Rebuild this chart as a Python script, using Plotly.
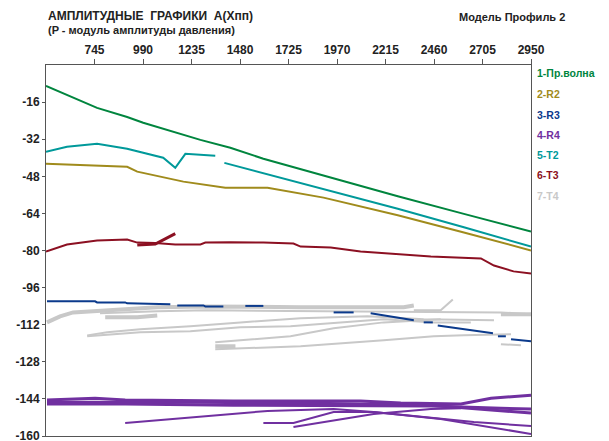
import plotly.graph_objects as go

# ---------------- data ----------------
green_x = [500, 606, 758, 910, 991, 1280, 1431, 1598, 1938, 2277, 2611, 2950]
green_y = [-9.0, -12.9, -18.5, -22.4, -24.9, -32.3, -35.7, -40.4, -48.6, -56.6, -64.2, -71.8]

teal_x = [500, 606, 758, 910, 1092, 1153, 1204, 1355, None, 1401, 1533, 1771, 2277, 2611, 2950]
teal_y = [-37.4, -35.3, -34.0, -36.1, -40.0, -44.3, -38.3, -39.1, None, -42.2, -45.2, -50.7, -62.0, -70.0, -78.3]

olive_x = [500, 910, 961, 1194, 1406, 1619, 1902, 2277, 2611, 2950]
olive_y = [-42.6, -43.9, -46.0, -50.3, -52.9, -52.9, -57.2, -64.8, -72.2, -80.0]

red_x = [500, 606, 758, 910, 961, 1052, 1153, 1280, 1305, 1431, 1598, 1750, 1786, 1938, 2089, 2277, 2444, 2697, 2763, 2862, 2950]
red_y = [-80.4, -77.4, -75.7, -75.3, -76.6, -76.8, -77.4, -77.4, -76.6, -76.4, -76.6, -77.0, -78.3, -78.7, -80.4, -81.7, -82.6, -83.4, -86.5, -89.0, -89.9]
red_branch_x = [961, 1052, 1153]
red_branch_y = [-77.6, -77.2, -72.7]

blue_x = [505, 748, 758, 900, 910, 1128, None, 1163, 1295, 1305, 1396, None, 1507, 1598, None,
          1953, 2054, None, 2140, 2358, None, 2408, 2454, None, 2479, 2758, None, 2783, 2823, None, 2849, 2950]
blue_y = [-101.9, -101.9, -102.4, -102.4, -102.8, -103.2, None, -103.7, -103.7, -104.1, -104.1, None, -103.9, -103.9, None,
          -106.7, -106.7, None, -107.1, -110.1, None, -111.0, -111.0, None, -112.3, -115.7, None, -117.0, -117.0, None, -118.3, -119.1]

gray_lines = [
    ([505, 571, 637, 809, 1062, 1315, 1786, 2307, 2358], [-111.0, -108.4, -106.7, -105.8, -104.5, -104.1, -104.5, -104.5, -103.7], 4),
    ([773, 1062, 1315, 1953, 2358, 2798, 2950], [-107.1, -106.2, -105.8, -106.2, -106.7, -106.7, -107.5], 2),
    ([2798, 2950], [-107.5, -107.5], 4),
    ([2358, 2494, 2555], [-105.8, -105.8, -101.1], 2),
    ([708, 809, 976, 1229, 1482, 1786, 2125, 2408, 2763], [-116.6, -115.3, -114.0, -112.7, -111.0, -109.2, -108.4, -109.7, -110.1], 2),
    ([708, 976, 1229, 1482, 1735, 2206, 2459, 2646], [-117.0, -115.3, -114.8, -113.1, -112.7, -109.7, -111.0, -111.0], 2),
    ([1355, 1568, 1735, 1953, 2206, 2494], [-119.6, -118.3, -117.0, -113.5, -111.0, -109.7], 2),
    ([1355, 1786, 2206, 2459, 2611, 2849], [-122.6, -121.3, -118.7, -117.0, -116.6, -116.1], 2),
    ([2798, 2899], [-120.4, -120.9], 2),
    ([799, 961, 1062], [-108.8, -108.8, -108.0], 4),
    ([1355, 1457], [-121.3, -121.3], 4),
]

purple_lines = [
    ([505, 748, 900, 1446, 2089, 2292, 2596, 2748, 2950], [-144.5, -143.7, -144.5, -144.9, -144.9, -145.8, -146.2, -143.7, -142.4], 3),
    ([505, 900, 1446, 2206, 2444, 2798, 2950], [-146.2, -146.2, -146.7, -147.1, -147.1, -148.0, -148.4], 3),
    ([505, 1280, 1786, 2444, 2950], [-145.4, -145.4, -145.8, -146.7, -150.1], 3),
    ([900, 1280, 1619, 1953, 2155, 2661, 2950], [-154.4, -151.8, -149.2, -148.4, -149.7, -154.0, -155.7], 2),
    ([1598, 1750, 1953, 2155, 2494, 2950], [-154.4, -154.4, -149.7, -149.7, -152.7, -159.1], 2),
    ([1750, 2155, 2444, 2596], [-156.1, -150.5, -148.4, -148.0], 2),
]

x_ticks = [745, 990, 1235, 1480, 1725, 1970, 2215, 2460, 2705, 2950]
y_ticks = [-16, -32, -48, -64, -80, -96, -112, -128, -144, -160]

legend_labels = ["1-Пр.волна", "2-R2", "3-R3", "4-R4", "5-T2", "6-T3", "7-T4"]
legend_colors = ["#00853e", "#a08b1c", "#0b3a8c", "#7030a0", "#00999a", "#8c1022", "#c8c8c8"]

C_GREEN, C_OLIVE, C_BLUE, C_PURPLE, C_TEAL, C_RED, C_GRAY = legend_colors

# ---------------- figure ----------------
fig = go.Figure()

def add(x, y, color, width=2):
    fig.add_trace(go.Scatter(x=x, y=y, mode="lines", line=dict(color=color, width=width),
                             connectgaps=False, showlegend=False, hoverinfo="skip"))

for gx, gy, w in gray_lines:
    add(gx, gy, C_GRAY, w)
for px_, py_, w in purple_lines:
    add(px_, py_, C_PURPLE, w)
add(blue_x, blue_y, C_BLUE, 2)
add(red_x, red_y, C_RED, 2)
add(red_branch_x, red_branch_y, C_RED, 3)
add(olive_x, olive_y, C_OLIVE, 2)
add(teal_x, teal_y, C_TEAL, 2)
add(green_x, green_y, C_GREEN, 2)

FONT = "Liberation Sans"
tickfont = dict(family=FONT, size=12, color="#222222", weight="bold")

# the page body has an 8px margin, so the figure is sized/offset to compensate
fig.update_layout(
    width=601, height=433,
    margin=dict(l=38, r=78, t=57, b=5),
    paper_bgcolor="white", plot_bgcolor="white",
    showlegend=False,
    xaxis=dict(range=[500, 2950], side="top", tickvals=x_ticks, ticktext=[str(v) for v in x_ticks],
               ticks="outside", ticklen=5, tickcolor="#555555", showline=True, linecolor="#555555",
               linewidth=1, mirror=True, showgrid=False, zeroline=False, tickfont=tickfont,
               ticklabeloverflow="allow", automargin=False),
    yaxis=dict(range=[-160, 0], tickvals=y_ticks, ticktext=[str(v) for v in y_ticks],
               ticks="outside", ticklen=3, tickcolor="#555555", showline=True, linecolor="#555555",
               linewidth=1, mirror=True, showgrid=False, zeroline=False, tickfont=tickfont,
               ticklabeloverflow="allow", automargin=False),
)

# titles
fig.add_annotation(text="АМПЛИТУДНЫЕ  ГРАФИКИ  А(Хпп)", xref="paper", yref="paper", x=0.0, y=1.133,
                   xanchor="left", yanchor="middle", showarrow=False,
                   font=dict(family=FONT, size=12, color="#222222", weight="bold"))
fig.add_annotation(text="(P - модуль амплитуды давления)", xref="paper", yref="paper", x=0.0, y=1.095,
                   xanchor="left", yanchor="middle", showarrow=False,
                   font=dict(family=FONT, size=11, color="#222222", weight="bold"))
fig.add_annotation(text="Модель Профиль 2", xref="paper", yref="paper", x=0.847, y=1.13,
                   xanchor="left", yanchor="middle", showarrow=False,
                   font=dict(family=FONT, size=11, color="#222222", weight="bold"))

# legend as coloured text
legend_y = [0.978, 0.922, 0.865, 0.811, 0.757, 0.704, 0.647]
for lab, col, ly in zip(legend_labels, legend_colors, legend_y):
    fig.add_annotation(text=lab, xref="paper", yref="paper", x=1.008, y=ly,
                       xanchor="left", yanchor="middle", showarrow=False,
                       font=dict(family=FONT, size=10.5, color=col, weight="bold"))

fig.write_html("out.html")
